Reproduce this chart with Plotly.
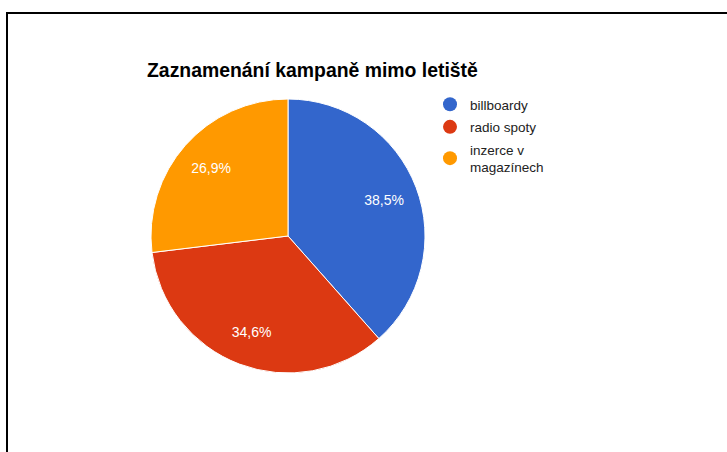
import plotly.graph_objects as go

categories = ["billboardy", "radio spoty", "inzerce v magazínech"]
legend_labels = ["billboardy", "radio spoty", "inzerce v<br>magazínech"]
values = [10, 9, 7]
colors = ["#3366CC", "#DC3912", "#FF9900"]
title_text = "Zaznamenání kampaně mimo letiště"

W, H = 727, 452
FONT = "Liberation Sans, Arial, sans-serif"

def px_x(v):
    return v / W

def px_y(v):
    return 1 - v / H

cx, cy, R = 288, 236, 137
dom = dict(x=[px_x(cx - R), px_x(cx + R)], y=[px_y(cy + R), px_y(cy - R)])

fig = go.Figure()
# filled slices
fig.add_trace(go.Pie(
    labels=categories,
    values=values,
    marker=dict(colors=colors, line=dict(color="white", width=1)),
    sort=False,
    direction="clockwise",
    rotation=0,
    textinfo="none",
    hoverinfo="label+percent",
    showlegend=False,
    domain=dom,
))
# transparent ring carrying the percentage labels further out
fig.add_trace(go.Pie(
    labels=categories,
    values=values,
    hole=0.5,
    marker=dict(colors=["rgba(0,0,0,0)"] * len(values), line=dict(width=0)),
    sort=False,
    direction="clockwise",
    rotation=0,
    textposition="inside",
    insidetextorientation="horizontal",
    texttemplate="%{percent:.1%}",
    textfont=dict(color="white", size=14, family=FONT),
    hoverinfo="skip",
    showlegend=False,
    domain=dom,
))

for i, (lab, col) in enumerate(zip(legend_labels, colors)):
    fig.add_trace(go.Scatter(
        x=[None], y=[None], mode="markers", name=lab,
        legendgroup="g%d" % i,
        marker=dict(color=col, size=14, symbol="circle"),
        showlegend=True, hoverinfo="skip",
    ))

fig.update_layout(
    width=W, height=H,
    margin=dict(l=0, r=0, t=0, b=0),
    paper_bgcolor="white", plot_bgcolor="white",
    separators=", ",
    title=dict(text="<b>" + title_text + "</b>", x=px_x(147), xanchor="left",
               y=px_y(70), yanchor="middle", xref="paper", yref="paper",
               font=dict(family=FONT, size=19.4, color="#000000")),
    xaxis=dict(visible=False), yaxis=dict(visible=False),
    legend=dict(x=px_x(430), y=px_y(89), xanchor="left", yanchor="top",
                font=dict(family=FONT, size=13.5, color="#222222"),
                bgcolor="rgba(0,0,0,0)", itemwidth=30, tracegroupgap=2),
    shapes=[dict(type="rect", xref="paper", yref="paper",
                 x0=px_x(7), x1=1.02, y0=-0.02, y1=px_y(13),
                 line=dict(color="black", width=2), fillcolor="rgba(0,0,0,0)")],
)

fig.write_html("out.html")
